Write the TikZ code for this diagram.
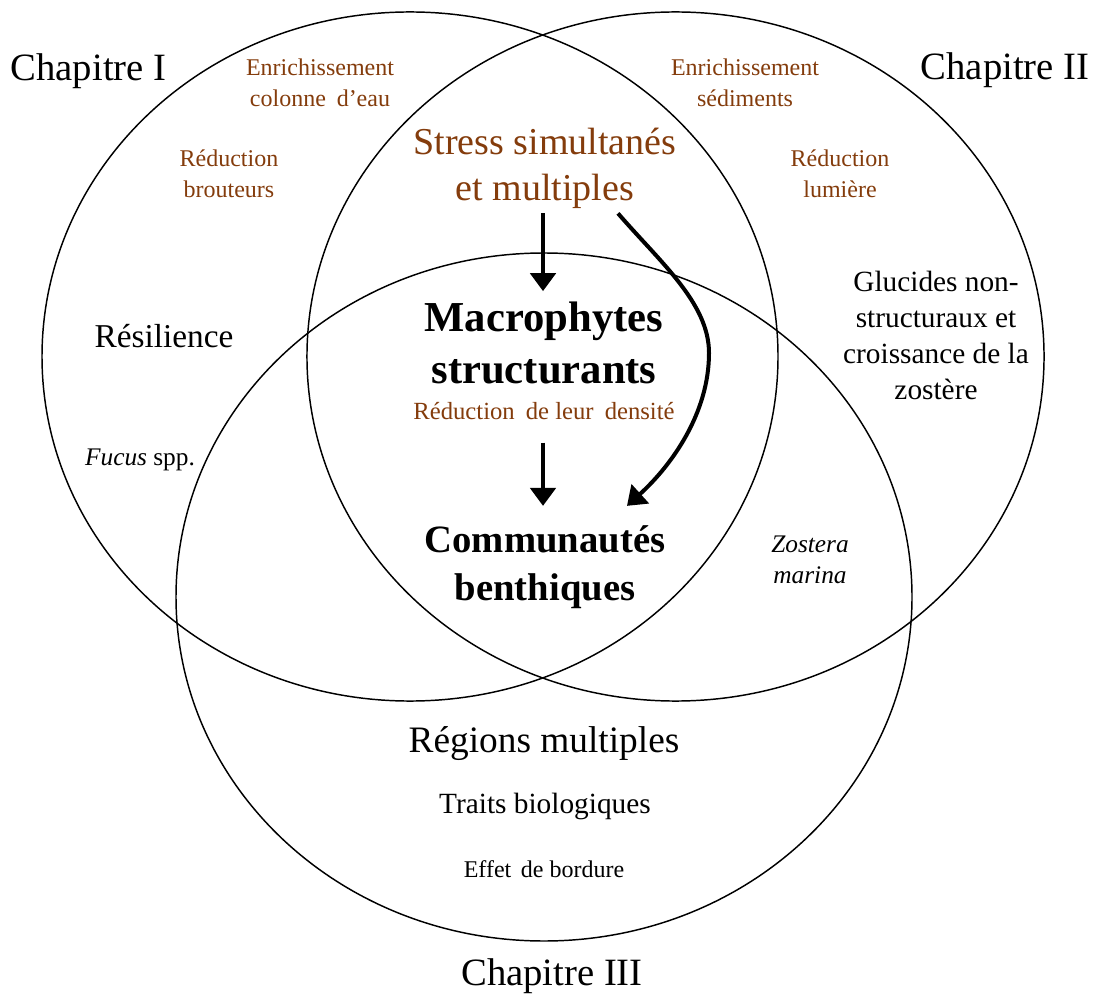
\documentclass[tikz,border=0pt]{standalone}
\usepackage{fontspec}
\setmainfont{Liberation Serif}
\usetikzlibrary{arrows.meta}
\definecolor{brn}{HTML}{843C0C}
\begin{document}
\begin{tikzpicture}[x=0.75pt,y=-0.75pt,
  venn/.style={draw=black, line width=1.1pt},
  lbl/.style={inner sep=0pt, align=center, anchor=base},
  chap/.style={lbl, font=\fontsize{29}{35}\selectfont},
  bsmall/.style={lbl, text=brn, font=\fontsize{18}{23.5}\selectfont},
  stressst/.style={lbl, text=brn, font=\fontsize{28.5}{34.5}\selectfont},
  macrost/.style={lbl, font=\bfseries\fontsize{32}{39}\selectfont},
  communst/.style={lbl, font=\bfseries\fontsize{29}{36}\selectfont},
  arr/.style={line width=3pt, -{Triangle[width=19pt,length=13.5pt]}},
]
\useasboundingbox (0,0) rectangle (1099,994);
\fill[white] (0,0) rectangle (1099,994);

% the three sets
\draw[venn] (410,356.5) ellipse [x radius=276pt, y radius=258.4pt];
\draw[venn] (675.5,356.5) ellipse [x radius=276.4pt, y radius=258.4pt];
\draw[venn] (544,597) ellipse [x radius=276pt, y radius=258pt];

% chapter labels
\node[chap] (ch1) at (88.5,81) {Chapitre I};
\node[chap] (ch2) at (1005,80) {Chapitre II};
\node[chap] (ch3) at (552,985) {Chapitre III};

% chapter I (base anchor = baseline of the last line)
\node[bsmall] (enr1) at (320,107) {Enrichissement\\colonne\hspace{0.45em}d’eau};
\node[bsmall] (red1) at (229,198) {Réduction\\brouteurs};
\node[lbl, font=\fontsize{25}{30}\selectfont] (resil) at (164,348) {Résilience};
\node[lbl, font=\fontsize{19}{23}\selectfont] (fucus) at (140,466) {\textit{Fucus} spp.};

% chapter II
\node[bsmall] (enr2) at (745,107) {Enrichissement\\sédiments};
\node[bsmall] (red2) at (840,198) {Réduction\\lumière};
\node[lbl, font=\fontsize{22}{27}\selectfont] (gluc) at (936,400) {Glucides non-\\structuraux et\\croissance de la\\zostère};
\node[lbl, font=\itshape\fontsize{19}{23.25}\selectfont] (zost) at (810,583) {Zostera\\marina};

% centre
\node[stressst] (stress) at (545,201) {Stress simultanés\\et multiples};
\node[macrost] (macro) at (544,384) {Macrophytes\\structurants};
\node[bsmall, font=\fontsize{18.5}{22}\selectfont] (dens) at (544,420) {Réduction\hspace{0.45em}de leur\hspace{0.45em}densité};
\node[communst] (commun) at (545,600) {Communautés\\benthiques};

% chapter III
\node[lbl, font=\fontsize{28}{34}\selectfont] (reg) at (544,752) {Régions multiples};
\node[lbl, font=\fontsize{22}{27}\selectfont] (traits) at (545,813) {Traits biologiques};
\node[lbl, font=\fontsize{18}{22}\selectfont] (effet) at (544,877) {Effet\hspace{0.4em}de bordure};

% arrows
\draw[arr] ([shift={(-2,4)}]stress.south) -- ([shift={(-1,-11)}]macro.north);
\draw[arr] ([shift={(-1,22)}]dens.south) -- ([shift={(-2,-19)}]commun.north);
\draw[arr] ([shift={(73,4)}]stress.south) .. controls (660,262) and (709,303) .. (709,353)
  .. controls (709,413) and (672,465) .. ([shift={(82,-19)}]commun.north);
\end{tikzpicture}
\end{document}
